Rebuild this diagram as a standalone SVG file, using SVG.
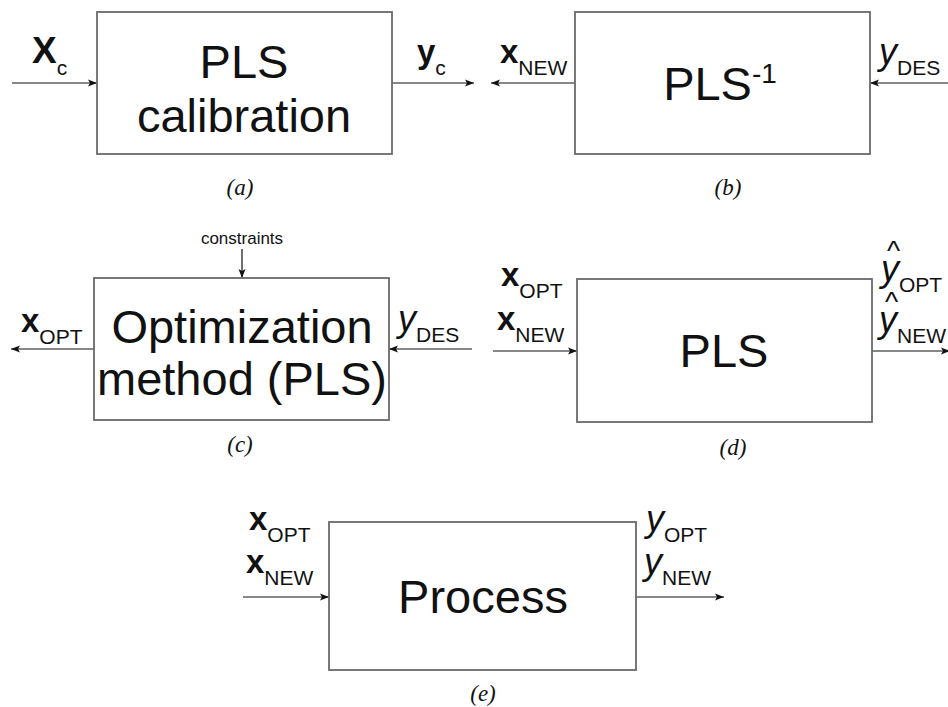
<svg xmlns="http://www.w3.org/2000/svg" width="948" height="707" viewBox="0 0 948 707">
<defs>
<marker id="ah" markerWidth="10" markerHeight="8" refX="9" refY="4" orient="auto" markerUnits="userSpaceOnUse">
<path d="M0,0.5 L9,4 L0,7.5 L2,4 Z" fill="#111"/>
</marker>
<style>
.box{fill:#fff;stroke:#6a6a6a;stroke-width:1.8}
.main{font-family:"Liberation Sans",Arial,sans-serif;font-size:47px;fill:#111;text-anchor:middle}
.lab{font-family:"Liberation Sans",Arial,sans-serif;fill:#111}
.bx{font-weight:bold;font-size:33px}
.iy{font-style:italic;font-size:36px}
.sub{font-size:21px}
.hat{font-family:"Liberation Sans",Arial,sans-serif;font-size:28px;fill:#111}
.cap{font-family:"Liberation Serif","Times New Roman",serif;font-style:italic;font-size:23px;fill:#111;text-anchor:middle}
.con{stroke:#111;stroke-width:1.2;fill:none;marker-end:url(#ah)}
</style>
</defs>
<rect width="948" height="707" fill="#fff"/>
<g id="connectors">
<line class="con" x1="12" y1="83" x2="97" y2="83"/>
<line class="con" x1="392" y1="83" x2="474" y2="83"/>
<line class="con" x1="575" y1="83" x2="491" y2="83"/>
<line class="con" x1="948" y1="83" x2="870" y2="83"/>
<line class="con" x1="94" y1="349" x2="11" y2="349"/>
<line class="con" x1="472" y1="349" x2="389" y2="349"/>
<line class="con" x1="242" y1="249" x2="242" y2="278"/>
<line class="con" x1="493" y1="351" x2="577" y2="351"/>
<line class="con" x1="872" y1="351" x2="950" y2="351"/>
<line class="con" x1="243" y1="597" x2="329" y2="597"/>
<line class="con" x1="636" y1="597" x2="724" y2="597"/>
</g>
<g id="node-a">
<rect class="box" x="97" y="12" width="295" height="142"/>
<text class="main" x="244" y="78">PLS</text>
<text class="main" x="244" y="132">calibration</text>
<text class="lab" x="32" y="63"><tspan font-weight="bold" font-size="37">X</tspan><tspan class="sub" dy="12">c</tspan></text>
<text class="lab" x="417" y="63"><tspan class="bx">y</tspan><tspan class="sub" dy="12">c</tspan></text>
<text class="cap" x="240" y="195">(a)</text>
</g>
<g id="node-b">
<rect class="box" x="575" y="12" width="295" height="142"/>
<text class="main" x="720" y="100">PLS<tspan font-size="28" dy="-17">-1</tspan></text>
<text class="lab" x="500" y="63"><tspan class="bx">x</tspan><tspan class="sub" dy="12">NEW</tspan></text>
<text class="lab" x="879" y="64"><tspan class="iy">y</tspan><tspan class="sub" dy="11">DES</tspan></text>
<text class="cap" x="728" y="195">(b)</text>
</g>
<g id="node-c">
<rect class="box" x="94" y="278" width="295" height="142"/>
<text class="main" x="242" y="343" font-size="45">Optimization</text>
<text class="main" x="242" y="395" font-size="45">method (PLS)</text>
<text class="lab" x="242" y="244" text-anchor="middle" font-size="17">constraints</text>
<text class="lab" x="21" y="332"><tspan class="bx">x</tspan><tspan class="sub" dy="12">OPT</tspan></text>
<text class="lab" x="398" y="331"><tspan class="iy">y</tspan><tspan class="sub" dy="11">DES</tspan></text>
<text class="cap" x="240" y="452">(c)</text>
</g>
<g id="node-d">
<rect class="box" x="577" y="279" width="295" height="143"/>
<text class="main" x="724" y="367" font-size="45">PLS</text>
<text class="lab" x="501" y="286"><tspan class="bx">x</tspan><tspan class="sub" dy="12">OPT</tspan></text>
<text class="lab" x="497" y="330"><tspan class="bx">x</tspan><tspan class="sub" dy="12">NEW</tspan></text>
<text class="lab" x="881" y="281"><tspan class="iy">y</tspan><tspan class="sub" dy="11">OPT</tspan></text>
<text class="hat" x="887" y="260">^</text>
<text class="lab" x="879" y="332"><tspan class="iy">y</tspan><tspan class="sub" dy="11">NEW</tspan></text>
<text class="hat" x="885" y="311">^</text>
<text class="cap" x="733" y="455">(d)</text>
</g>
<g id="node-e">
<rect class="box" x="329" y="522" width="307" height="148"/>
<text class="main" x="483" y="613" font-size="46">Process</text>
<text class="lab" x="249" y="530"><tspan class="bx">x</tspan><tspan class="sub" dy="12">OPT</tspan></text>
<text class="lab" x="246" y="573"><tspan class="bx">x</tspan><tspan class="sub" dy="12">NEW</tspan></text>
<text class="lab" x="646" y="531"><tspan class="iy">y</tspan><tspan class="sub" dy="11">OPT</tspan></text>
<text class="lab" x="644" y="574"><tspan class="iy">y</tspan><tspan class="sub" dy="11">NEW</tspan></text>
<text class="cap" x="483" y="701">(e)</text>
</g>
</svg>
